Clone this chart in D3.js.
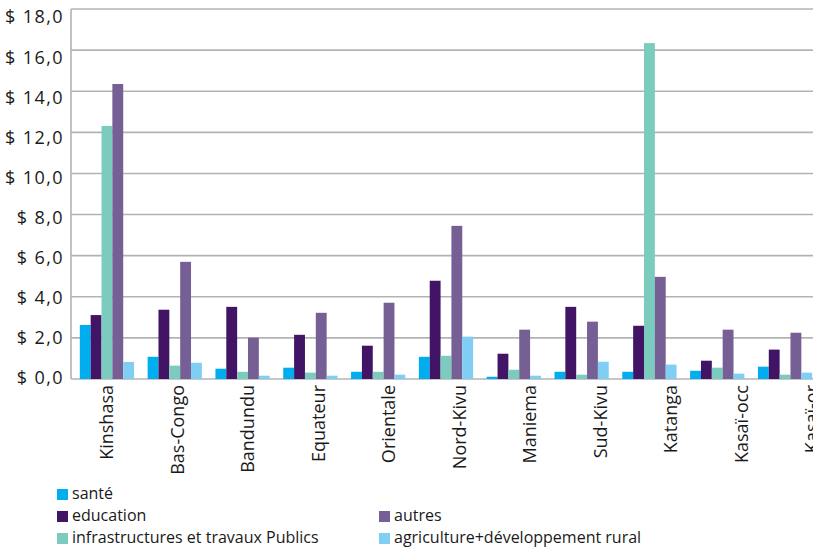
<!DOCTYPE html>
<html>
<head>
<meta charset="utf-8">
<script src="https://cdn.jsdelivr.net/npm/d3@7"></script>
<style>
  html, body { margin: 0; padding: 0; background: #fff; overflow: hidden; }
  svg { display: block; }
  text { font-family: "Open Sans", "Noto Sans", sans-serif; fill: #1a1a1a; }
</style>
</head>
<body>
<svg id="chart" width="813" height="547"></svg>
<script>
const categories = ["Kinshasa", "Bas-Congo", "Bandundu", "Equateur", "Orientale", "Nord-Kivu", "Maniema", "Sud-Kivu", "Katanga", "Kasaï-occ", "Kasaï-or"];
const seriesNames = ["santé", "education", "infrastructures et travaux Publics", "autres", "agriculture+développement rural"];
const sante       = [2.63, 1.08, 0.50, 0.55, 0.35, 1.08, 0.11, 0.35, 0.35, 0.40, 0.60];
const education   = [3.11, 3.37, 3.51, 2.15, 1.62, 4.78, 1.23, 3.51, 2.59, 0.89, 1.43];
const infra       = [12.31, 0.65, 0.35, 0.31, 0.35, 1.13, 0.45, 0.21, 16.34, 0.55, 0.21];
const autres      = [14.35, 5.70, 2.01, 3.22, 3.71, 7.45, 2.40, 2.79, 4.97, 2.40, 2.25];
const agriculture = [0.83, 0.79, 0.16, 0.16, 0.21, 2.06, 0.16, 0.84, 0.70, 0.26, 0.31];
const yTicks = [0, 2, 4, 6, 8, 10, 12, 14, 16, 18];
const colors = ["#00adee", "#411465", "#7bcbbf", "#765f95", "#80cef3"];

const seriesValues = [sante, education, infra, autres, agriculture];
const rows = categories.map((c, i) => ({ cat: c, vals: seriesValues.map(s => s[i]) }));

const svg = d3.select("#chart");
const plotLeft = 71, plotTop = 9, plotBottom = 379;

const y = d3.scaleLinear().domain([0, 18]).range([plotBottom, plotTop]);
const yLab = d3.scaleLinear().domain([0, 18]).range([378, 17]);
const x0 = d3.scaleBand().domain(categories).range([plotLeft, 821]).paddingInner(0.2).paddingOuter(0.13);
const x1 = d3.scaleBand().domain(d3.range(5)).range([0, x0.bandwidth()]).padding(0);
const xLab = d3.scalePoint().domain(categories).range([107, 812]);

// gridlines
svg.append("g")
  .selectAll("line").data(yTicks).join("line")
  .attr("x1", plotLeft).attr("x2", 813)
  .attr("y1", d => y(d)).attr("y2", d => y(d))
  .attr("stroke", "#b3b3b3").attr("stroke-width", 1.6);

// y axis line
svg.append("line")
  .attr("x1", plotLeft).attr("x2", plotLeft).attr("y1", plotTop).attr("y2", plotBottom)
  .attr("stroke", "#b3b3b3").attr("stroke-width", 1.6);

// y labels
svg.append("g")
  .selectAll("text").data(yTicks).join("text")
  .attr("x", 64).attr("y", d => yLab(d)).attr("dy", "0.36em")
  .attr("text-anchor", "end").attr("font-size", 18)
  .attr("letter-spacing", "1.4px")
  .text(d => "$ " + d.toFixed(1).replace(".", ","));

// bars
const groups = svg.append("g").selectAll("g").data(rows).join("g")
  .attr("transform", d => `translate(${x0(d.cat)},0)`);
groups.selectAll("rect").data(d => d.vals.map((v, k) => ({ v, k }))).join("rect")
  .attr("x", d => x1(d.k)).attr("width", x1.bandwidth())
  .attr("y", d => y(d.v)).attr("height", d => y(0) - y(d.v))
  .attr("fill", d => colors[d.k]);

// x labels
svg.append("g").selectAll("text").data(categories).join("text")
  .attr("transform", d => `translate(${xLab(d)},385) rotate(-90)`)
  .attr("text-anchor", "end").attr("dy", "0.35em")
  .attr("font-size", 18)
  .text(d => d);

// legend
const legendPos = [
  { x: 57, y: 489 }, { x: 57, y: 511 }, { x: 57, y: 533 },
  { x: 379, y: 511 }, { x: 379, y: 533 }
];
const leg = svg.append("g").selectAll("g").data(seriesNames).join("g")
  .attr("transform", (d, i) => `translate(${legendPos[i].x},${legendPos[i].y})`);
leg.append("rect").attr("width", 11).attr("height", 11).attr("fill", (d, i) => colors[i]);
leg.append("text").attr("x", 15).attr("y", 10).attr("font-size", 16).text(d => d);
</script>
</body>
</html>
